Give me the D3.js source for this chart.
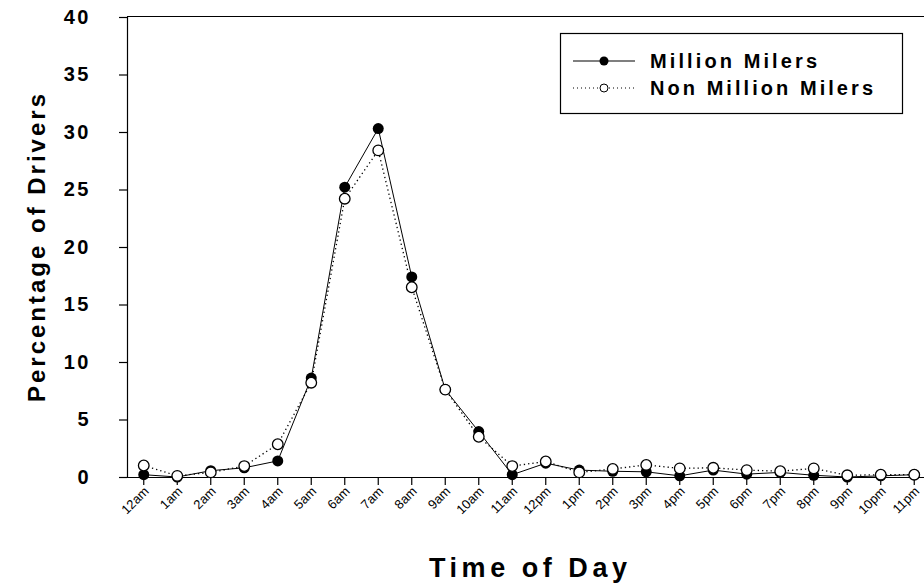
<!DOCTYPE html>
<html><head><meta charset="utf-8">
<script src="https://cdn.jsdelivr.net/npm/d3@7"></script>
<style>body{margin:0;background:#fff}svg{display:block}text{font-family:"Liberation Sans",Arial,sans-serif}</style>
</head><body><svg id="c" width="924" height="587"></svg>
<script>
const hours = ["12am","1am","2am","3am","4am","5am","6am","7am","8am","9am","10am","11am","12pm","1pm","2pm","3pm","4pm","5pm","6pm","7pm","8pm","9pm","10pm","11pm"];
const millionMilers = [0.2,0.0,0.55,0.8,1.4,8.6,25.2,30.3,17.4,7.6,3.95,0.2,1.2,0.6,0.5,0.45,0.1,0.6,0.25,0.4,0.15,0.0,0.1,0.2];
const nonMillionMilers = [1.0,0.1,0.4,0.95,2.85,8.2,24.2,28.4,16.5,7.6,3.5,0.95,1.35,0.4,0.7,1.05,0.75,0.8,0.6,0.5,0.75,0.15,0.2,0.2];
const yTicks = [0,5,10,15,20,25,30,35,40];
const seriesNames = ["Million Milers","Non Million Milers"];

const svg = d3.select("#c");
const pLeft = 127, pTop = 17, pBottom = 477, step = 33.5;
const x = d3.scaleBand().domain(hours).range([pLeft, pLeft + step*hours.length]).padding(0);
const y = d3.scaleLinear().domain([0,40]).range([pBottom, pTop]);
const cx = d => x(d) + x.bandwidth()/2;

// top frame line
svg.append("line").attr("x1",pLeft).attr("x2",924).attr("y1",pTop-0.5).attr("y2",pTop-0.5).attr("stroke","#000").attr("stroke-width",1.2);

// y axis
const ya = svg.append("g").attr("transform",`translate(${pLeft},0)`)
  .call(d3.axisLeft(y).tickValues(yTicks).tickSize(8).tickPadding(28));
ya.select(".domain").attr("stroke-width",1.2);
ya.selectAll("line").attr("stroke-width",1.2);
ya.selectAll("text").attr("font-size",20).attr("font-weight","bold").attr("letter-spacing","2.5px").attr("fill","#000");

// x axis
const xa = svg.append("g").attr("transform",`translate(0,${pBottom})`)
  .call(d3.axisBottom(x).tickSize(8).tickSizeOuter(0));
xa.select(".domain").attr("stroke-width",1.2);
xa.selectAll("line").attr("stroke-width",1.2);
xa.selectAll("text").attr("font-size",13).attr("fill","#000")
  .attr("text-anchor","end").attr("dy",0).attr("y",0)
  .attr("transform","translate(6,15) rotate(-45)");

// lines
const line = d3.line().x((d,i)=>cx(hours[i])).y(d=>y(d));
svg.append("path").datum(millionMilers).attr("d",line).attr("fill","none").attr("stroke","#000").attr("stroke-width",1);
svg.append("path").datum(nonMillionMilers).attr("d",line).attr("fill","none").attr("stroke","#000").attr("stroke-width",1.3).attr("stroke-dasharray","1.3,3");

svg.append("g").selectAll("circle").data(millionMilers).join("circle")
  .attr("cx",(d,i)=>cx(hours[i])).attr("cy",d=>y(d)).attr("r",5.5).attr("fill","#000");
svg.append("g").selectAll("circle").data(nonMillionMilers).join("circle")
  .attr("cx",(d,i)=>cx(hours[i])).attr("cy",d=>y(d)).attr("r",5.3).attr("fill","#fff").attr("stroke","#000").attr("stroke-width",1.3);

// legend
const lg = svg.append("g");
lg.append("rect").attr("x",560.5).attr("y",33.5).attr("width",342).attr("height",80).attr("fill","#fff").attr("stroke","#000").attr("stroke-width",1.2);
const rows = [61, 88];
lg.append("line").attr("x1",573).attr("x2",635).attr("y1",rows[0]).attr("y2",rows[0]).attr("stroke","#000").attr("stroke-width",1.2);
lg.append("circle").attr("cx",604).attr("cy",rows[0]).attr("r",4.5).attr("fill","#000");
lg.append("line").attr("x1",573).attr("x2",635).attr("y1",rows[1]).attr("y2",rows[1]).attr("stroke","#000").attr("stroke-width",1).attr("stroke-dasharray","1,3");
lg.append("circle").attr("cx",604).attr("cy",rows[1]).attr("r",4).attr("fill","#fff").attr("stroke","#000").attr("stroke-width",1);
const legW = [167, 223];
lg.selectAll("text.l").data(seriesNames).join("text").attr("class","l")
  .attr("x",650).attr("y",(d,i)=>rows[i]+7).attr("font-size",20).attr("font-weight","bold")
  .attr("textLength",(d,i)=>legW[i]).attr("lengthAdjust","spacing").text(d=>d);

// titles
svg.append("text").attr("transform","translate(45,248) rotate(-90)").attr("text-anchor","middle")
  .attr("font-size",24).attr("font-weight","bold").attr("textLength",308).attr("lengthAdjust","spacing").text("Percentage of Drivers");
svg.append("text").attr("x",528).attr("y",577).attr("text-anchor","middle")
  .attr("font-size",27).attr("font-weight","bold").attr("textLength",198).attr("lengthAdjust","spacing").text("Time of Day");
</script></body></html>
